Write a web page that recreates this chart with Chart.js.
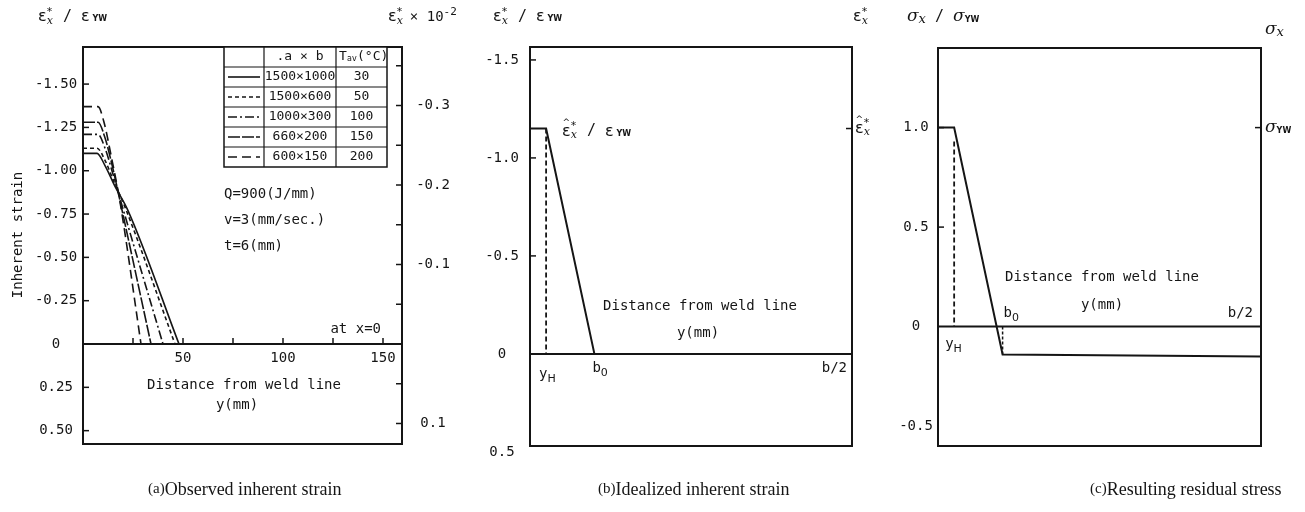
<!DOCTYPE html>
<html>
<head>
<meta charset="utf-8">
<script src="https://cdn.jsdelivr.net/npm/chart.js@4.4.1/dist/chart.umd.min.js"></script>
<style>
  body { margin: 0; background: #fff; width: 1305px; height: 512px; overflow: hidden; position: relative; }
  canvas { position: absolute; top: 0; }
</style>
</head>
<body>
<canvas id="chartA" width="475" height="512" style="left:0px"></canvas>
<canvas id="chartB" width="405" height="512" style="left:475px"></canvas>
<canvas id="chartC" width="425" height="512" style="left:880px"></canvas>
<script>
// ---- (a) observed inherent strain, one curve per plate size ----
const plateSizes = ['1500×1000', '1500×600', '1000×300', '660×200', '600×150'];
const avgTemps = ['30', '50', '100', '150', '200'];
const distA = [
  [0, 7, 11, 16, 22.5, 48],
  [0, 7, 11, 15, 21, 46],
  [0, 7.5, 11, 15, 19.5, 40],
  [0, 7.5, 11, 15, 19, 34],
  [0, 7.5, 10.5, 14, 18.5, 29]
];
const strainA = [
  [-1.10, -1.10, -1.03, -0.91, -0.77, 0],
  [-1.13, -1.13, -1.06, -0.95, -0.79, 0],
  [-1.21, -1.21, -1.13, -0.98, -0.80, 0],
  [-1.28, -1.28, -1.19, -1.01, -0.80, 0],
  [-1.37, -1.37, -1.28, -1.09, -0.82, 0]
];
const dashes = [[], [4, 3], [9, 3, 2, 3], [12, 2], [9, 5]];
const leftTicksA = [-1.5, -1.25, -1.0, -0.75, -0.5, -0.25, 0, 0.25, 0.5];
const leftLabelsA = ['-1.50', '-1.25', '-1.00', '-0.75', '-0.50', '-0.25', '0', '0.25', '0.50'];
const rightTicksA = [-0.35, -0.3, -0.25, -0.2, -0.15, -0.1, -0.05, 0.05, 0.1];
const rightLabelsA = { '-0.3': '-0.3', '-0.2': '-0.2', '-0.1': '-0.1', '0.1': '0.1' };
const xTicksA = [25, 50, 75, 100, 125, 150];
const xLabelsA = [50, 100, 150];

// ---- (b) idealized inherent strain ----
const yH = 5, b0 = 20;
const idealDist = [0, yH, b0];
const idealStrain = [-1.15, -1.15, 0];
const leftTicksB = [-1.5, -1.0, -0.5];
const leftLabelsB = [[-1.5, '-1.5'], [-1.0, '-1.0'], [-0.5, '-0.5'], [0, '0'], [0.5, '0.5']];

// ---- (c) resulting residual stress ----
const stressDist = [0, yH, b0, 100];
const stressVal = [1.0, 1.0, -0.14, -0.15];
const leftTicksC = [1.0, 0.5];
const leftLabelsC = [[1.0, '1.0'], [0.5, '0.5'], [0, '0'], [-0.5, '-0.5']];

const INK = '#151515';
const MONO = '14px "DejaVu Sans Mono"';
const CAPTION = '18px "Liberation Serif"';

function txt(ctx, s, x, y, font, align) {
  ctx.font = font;
  ctx.textAlign = align || 'left';
  ctx.textBaseline = 'middle';
  ctx.fillStyle = INK;
  ctx.fillText(s, x, y);
}

function seg(ctx, x1, y1, x2, y2, w, dash) {
  ctx.save();
  ctx.strokeStyle = INK;
  ctx.lineWidth = w || 1.5;
  ctx.setLineDash(dash || []);
  ctx.beginPath();
  ctx.moveTo(x1, y1);
  ctx.lineTo(x2, y2);
  ctx.stroke();
  ctx.restore();
}

// pieces of text, with stacked super/sub scripts
function rich(ctx, x, y, parts) {
  ctx.textBaseline = 'middle';
  ctx.textAlign = 'left';
  ctx.fillStyle = INK;
  for (const p of parts) {
    if (p.sup !== undefined) {
      ctx.font = '11px "DejaVu Sans"';
      const w1 = ctx.measureText(p.sup).width;
      ctx.fillText(p.sup, x, y - 5);
      ctx.font = 'italic 11px "DejaVu Serif"';
      const w2 = ctx.measureText(p.sub).width;
      ctx.fillText(p.sub, x, y + 4);
      x += Math.max(w1, w2) + 1;
    } else {
      ctx.font = p.font;
      const w = ctx.measureText(p.t).width;
      ctx.fillText(p.t, x, y + (p.dy || 0));
      if (p.hat) {
        ctx.font = '9px "DejaVu Sans"';
        ctx.textAlign = 'center';
        ctx.fillText('^', x + w / 2, y - 9);
        ctx.textAlign = 'left';
      }
      x += w;
    }
  }
  return x;
}

const EPS = '16px "DejaVu Sans"';
const epsStar = (hat) => [{ t: 'ε', font: EPS, hat: hat }, { sup: '*', sub: 'x' }];
const slash = { t: ' / ', font: '15px "DejaVu Sans Mono"' };
const epsYW = [{ t: 'ε', font: EPS }, { t: ' YW', font: 'bold 8px "DejaVu Sans"', dy: 2 }];
const sig = (sub) => [{ t: 'σ', font: 'italic 17px "DejaVu Serif"' }, { t: sub, font: sub === 'x' ? 'italic 13px "DejaVu Serif"' : 'bold 8px "DejaVu Sans"', dy: 3 }];

function subLabel(ctx, main, sub, x, y) {
  ctx.font = MONO;
  ctx.textAlign = 'left';
  ctx.textBaseline = 'middle';
  ctx.fillStyle = INK;
  ctx.fillText(main, x, y);
  const w = ctx.measureText(main).width;
  ctx.font = '11px "DejaVu Sans"';
  ctx.fillText(sub, x + w, y + 5);
}

function frame(ctx, area) {
  ctx.save();
  ctx.strokeStyle = INK;
  ctx.lineWidth = 2;
  ctx.strokeRect(area.left, area.top, area.right - area.left, area.bottom - area.top);
  ctx.restore();
}

function baseOptions(pad, xMax, yMin, yMax, reverse, extraScales) {
  return {
    responsive: false,
    animation: false,
    layout: { padding: pad },
    plugins: { legend: { display: false }, tooltip: { enabled: false } },
    elements: { point: { radius: 0 } },
    scales: Object.assign({
      x: { type: 'linear', min: 0, max: xMax, display: false },
      y: { type: 'linear', min: yMin, max: yMax, reverse: reverse, display: false }
    }, extraScales || {})
  };
}

function lineSet(xs, ys, dash, width) {
  return {
    data: xs.map((x, i) => ({ x: x, y: ys[i] })),
    borderColor: INK,
    borderWidth: width || 1.6,
    borderDash: dash || [],
    fill: false,
    tension: 0,
    pointRadius: 0
  };
}

// ---------------- chart (a) ----------------
const decorA = {
  id: 'decorA',
  afterDraw(chart) {
    const ctx = chart.ctx, a = chart.chartArea;
    const xs = chart.scales.x, ys = chart.scales.y, y2 = chart.scales.y2;
    frame(ctx, a);
    const y0 = ys.getPixelForValue(0);
    seg(ctx, a.left, y0, a.right, y0, 2);
    leftTicksA.forEach((v, i) => {
      const y = ys.getPixelForValue(v);
      if (v !== 0) seg(ctx, a.left, y, a.left + 6, y, 1.5);
      txt(ctx, leftLabelsA[i], 56, y, MONO, 'center');
    });
    rightTicksA.forEach(v => {
      const y = y2.getPixelForValue(v);
      seg(ctx, a.right - 6, y, a.right, y, 1.5);
      const lab = rightLabelsA[String(v)];
      if (lab) txt(ctx, lab, 433, y, MONO, 'center');
    });
    xTicksA.forEach(v => {
      const x = xs.getPixelForValue(v);
      seg(ctx, x, y0, x, y0 - 6, 1.5);
    });
    xLabelsA.forEach(v => txt(ctx, String(v), xs.getPixelForValue(v), y0 + 14, MONO, 'center'));

    // legend table
    const L = 224, R = 387, T = a.top, C1 = 264, C2 = 336, rowH = 20;
    ctx.save();
    ctx.strokeStyle = INK;
    ctx.lineWidth = 1.5;
    ctx.fillStyle = '#fff';
    ctx.fillRect(L, T, R - L, rowH * 6);
    ctx.strokeRect(L, T, R - L, rowH * 6);
    for (let r = 1; r < 6; r++) seg(ctx, L, T + r * rowH, R, T + r * rowH, 1.2);
    seg(ctx, C1, T, C1, T + rowH * 6, 1.2);
    seg(ctx, C2, T, C2, T + rowH * 6, 1.2);
    ctx.restore();
    const TF = '13px "DejaVu Sans Mono"';
    txt(ctx, '.a × b', (C1 + C2) / 2, T + 10, TF, 'center');
    ctx.font = TF;
    ctx.textAlign = 'left';
    ctx.fillText('T', C2 + 3, T + 10);
    ctx.font = '8px "DejaVu Sans"';
    ctx.fillText('av', C2 + 11, T + 12);
    ctx.font = TF;
    ctx.fillText('(°C)', C2 + 21, T + 10);
    chart.data.datasets.forEach((ds, i) => {
      const cy = T + (i + 1) * rowH + 10;
      seg(ctx, L + 4, cy, C1 - 4, cy, 1.6, ds.borderDash);
      txt(ctx, plateSizes[i], (C1 + C2) / 2, cy, TF, 'center');
      txt(ctx, avgTemps[i], (C2 + R) / 2, cy, TF, 'center');
    });

    // notes and axis texts
    txt(ctx, 'Q=900(J/mm)', 224, 194, MONO);
    txt(ctx, 'v=3(mm/sec.)', 224, 220, MONO);
    txt(ctx, 't=6(mm)', 224, 246, MONO);
    txt(ctx, 'at x=0', 381, y0 - 15, MONO, 'right');
    txt(ctx, 'Distance from weld line', 244, 385, MONO, 'center');
    txt(ctx, 'y(mm)', 237, 405, MONO, 'center');
    ctx.save();
    ctx.translate(18, 235);
    ctx.rotate(-Math.PI / 2);
    txt(ctx, 'Inherent strain', 0, 0, MONO, 'center');
    ctx.restore();
    rich(ctx, 38, 17, [...epsStar(false), slash, ...epsYW]);
    const xe = rich(ctx, 388, 17, [...epsStar(false)]);
    rich(ctx, xe + 6, 17, [{ t: '× 10', font: MONO }, { t: '-2', font: '11px "DejaVu Sans Mono"', dy: -5 }]);
    rich(ctx, 148, 490, [{ t: '(a)', font: '15px "Liberation Serif"', dy: -1 }, { t: 'Observed inherent strain', font: CAPTION }]);
  }
};

new Chart(document.getElementById('chartA'), {
  type: 'line',
  data: { datasets: distA.map((xs, i) => lineSet(xs, strainA[i], dashes[i])).map(ds => Object.assign(ds, { cubicInterpolationMode: 'monotone', tension: 0.4 })) },
  options: baseOptions({ left: 83, right: 73, top: 47, bottom: 68 }, 159.5, -1.714, 0.577, true, {
    y2: { type: 'linear', min: -0.3736, max: 0.1258, reverse: true, display: false }
  }),
  plugins: [decorA]
});

// ---------------- chart (b) ----------------
const decorB = {
  id: 'decorB',
  afterDraw(chart) {
    const ctx = chart.ctx, a = chart.chartArea;
    const xs = chart.scales.x, ys = chart.scales.y;
    const ox = 475;
    frame(ctx, a);
    const y0 = ys.getPixelForValue(0);
    seg(ctx, a.left, y0, a.right, y0, 2);
    leftTicksB.forEach(v => {
      const y = ys.getPixelForValue(v);
      seg(ctx, a.left, y, a.left + 6, y, 1.5);
    });
    leftLabelsB.forEach(([v, s]) => txt(ctx, s, 502 - ox, ys.getPixelForValue(v), MONO, 'center'));
    const yHat = ys.getPixelForValue(idealStrain[0]);
    seg(ctx, a.right - 6, yHat, a.right, yHat, 1.5);
    rich(ctx, 855 - ox, yHat, epsStar(true));
    rich(ctx, 562 - ox, yHat + 3, [...epsStar(true), slash, ...epsYW]);
    rich(ctx, 493 - ox, 17, [...epsStar(false), slash, ...epsYW]);
    rich(ctx, 853 - ox, 17, epsStar(false));
    subLabel(ctx, 'y', 'H', xs.getPixelForValue(yH) - 7, y0 + 20);
    subLabel(ctx, 'b', '0', xs.getPixelForValue(b0) - 2, y0 + 14);
    txt(ctx, 'b/2', a.right - 5, y0 + 14, MONO, 'right');
    txt(ctx, 'Distance from weld line', 700 - ox, 306, MONO, 'center');
    txt(ctx, 'y(mm)', 698 - ox, 333, MONO, 'center');
    rich(ctx, 598 - ox, 490, [{ t: '(b)', font: '15px "Liberation Serif"', dy: -1 }, { t: 'Idealized inherent strain', font: CAPTION }]);
  }
};

new Chart(document.getElementById('chartB'), {
  type: 'line',
  data: {
    datasets: [
      lineSet(idealDist, idealStrain, [], 2),
      lineSet([yH, yH], [idealStrain[1], 0], [5, 3], 1.8)
    ]
  },
  options: baseOptions({ left: 55, right: 28, top: 47, bottom: 66 }, 100, -1.566, 0.47, true),
  plugins: [decorB]
});

// ---------------- chart (c) ----------------
const decorC = {
  id: 'decorC',
  afterDraw(chart) {
    const ctx = chart.ctx, a = chart.chartArea;
    const xs = chart.scales.x, ys = chart.scales.y;
    const ox = 880;
    frame(ctx, a);
    const y0 = ys.getPixelForValue(0);
    seg(ctx, a.left, y0, a.right, y0, 2);
    leftTicksC.forEach(v => {
      const y = ys.getPixelForValue(v);
      seg(ctx, a.left, y, a.left + 6, y, 1.5);
    });
    leftLabelsC.forEach(([v, s]) => txt(ctx, s, 916 - ox, ys.getPixelForValue(v), MONO, 'center'));
    const y1 = ys.getPixelForValue(stressVal[0]);
    seg(ctx, a.right - 6, y1, a.right, y1, 1.5);
    rich(ctx, 1265 - ox, y1, sig('YW'));
    rich(ctx, 907 - ox, 17, [...sig('x'), slash, ...sig('YW')]);
    rich(ctx, 1265 - ox, 30, sig('x'));
    subLabel(ctx, 'y', 'H', xs.getPixelForValue(yH) - 9, y0 + 18);
    subLabel(ctx, 'b', '0', xs.getPixelForValue(b0) + 1, y0 - 13);
    txt(ctx, 'b/2', a.right - 8, y0 - 13, MONO, 'right');
    txt(ctx, 'Distance from weld line', 1102 - ox, 277, MONO, 'center');
    txt(ctx, 'y(mm)', 1102 - ox, 305, MONO, 'center');
    rich(ctx, 1090 - ox, 490, [{ t: '(c)', font: '15px "Liberation Serif"', dy: -1 }, { t: 'Resulting residual stress', font: CAPTION }]);
  }
};

new Chart(document.getElementById('chartC'), {
  type: 'line',
  data: {
    datasets: [
      lineSet(stressDist, stressVal, [], 2),
      lineSet([yH, yH], [0.93, 0], [5, 3], 1.8),
      lineSet([b0, b0], [0, stressVal[2]], [3, 2], 1.5)
    ]
  },
  options: baseOptions({ left: 58, right: 44, top: 48, bottom: 66 }, 100, -0.6, 1.4, false),
  plugins: [decorC]
});
</script>
</body>
</html>
